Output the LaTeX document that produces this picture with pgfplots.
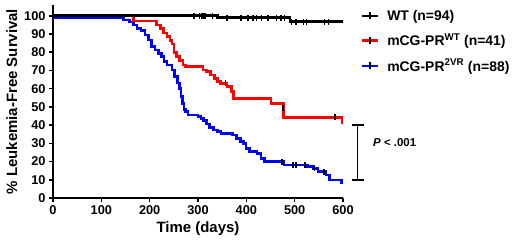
\documentclass[border=0pt]{standalone}
\usepackage{pgfplots}
\pgfplotsset{compat=1.18}
\usepackage{fontspec}
\setmainfont{Liberation Sans}
\usetikzlibrary{calc}

\begin{document}
\begin{tikzpicture}
\begin{axis}[
  name=ax,
  scale only axis,
  width=290bp, height=193bp,
  xmin=0, xmax=600, ymin=0, ymax=105.9,
  axis lines=left,
  axis line style={line width=1.7bp, -},
  xtick={0,100,...,600}, ytick={0,10,...,100},
  tick style={black, line width=1.5bp},
  tick align=outside, major tick length=4bp,
  tick label style={font=\fontsize{12.8}{14}\selectfont\bfseries},
  /pgf/number format/assume math mode=true,
  xlabel={Time (days)}, ylabel={\% Leukemia-Free Survival},
  label style={font=\fontsize{15}{17}\selectfont\bfseries},
  clip=false,
  reverse legend,
  legend cell align=left,
  legend style={draw=none, fill=none, at={(1.05,0.995)}, anchor=north west,
    font=\fontsize{14}{16}\selectfont\bfseries, row sep=8bp,
    /tikz/every odd column/.append style={column sep=6bp}},
  legend image code/.code={
    \draw[#1, line width=2.6bp] (0bp,0bp) -- (16bp,0bp);
    \draw[black, line width=1.4bp] (8bp,-3.5bp) -- (8bp,3.5bp);
  },
]
% blue: mCG-PR 2VR
\addplot[blue, line width=2.6bp, const plot] coordinates {
(0,98.9)(146,97.7)(158,96.6)(167,95.0)(174,93.1)(182,92.0)(190,89.4)(197,86.7)
(204,83.0)(211,81.2)(218,79.4)(225,77.5)(230,74.8)(236,73.0)(246,70.2)(252,66.6)
(258,63.0)(262,60.0)(265,55.6)(268,51.9)(271,48.5)(274,47.3)(279,45.5)(300,44.6)
(306,43.7)(312,42.5)(318,40.5)(324,38.6)(332,37.3)(340,36.4)(348,35.5)(372,34.5)
(380,32.7)(388,30.9)(394,30.0)(399,27.3)(406,25.4)(422,24.5)(430,21.8)(437,19.9)
(478,18.1)(526,17.2)(538,16.3)(548,14.4)(565,12.6)(572,9.9)(597,8.5)(600,8.5)};
\addlegendentry{mCG-PR\textsuperscript{2VR} (n=88)}
% red: mCG-PR WT
\addplot[red, line width=2.6bp, const plot] coordinates {
(0,100)(166,97.2)(214,95.0)(223,93.0)(229,90.5)(236,88.5)(242,86.5)(246,84.5)
(250,80.0)(256,77.5)(262,75.5)(269,73.0)(274,72.0)(310,70.2)(318,69.3)(326,67.5)
(334,65.7)(340,63.8)(346,62.9)(360,61.1)(369,58.3)(374,54.7)(451,51.9)(477,44.3)
(598,41.5)(600,41.5)};
\addlegendentry{mCG-PR\textsuperscript{WT} (n=41)}
% black: WT
\addplot[black, line width=2.6bp, const plot] coordinates {
(0,100)(340,98.9)(490,96.8)(600,96.8)};
\addlegendentry{WT (n=94)}

% censor marks
\addplot[only marks, mark=|, mark size=3bp, mark options={black, line width=1.5bp}, forget plot] coordinates {
(292,100)(303,100)(308,100)(311,100)(314,100)(330,100)
(360,98.9)(389,98.9)(403,98.9)(414,98.9)(421,98.9)(431,98.9)(445,98.9)(462,98.9)(472,98.9)(479,98.9)
(493,96.8)(503,96.8)(518,96.8)(525,96.8)(562,96.8)(570,96.8)};
\addplot[only marks, mark=|, mark size=3bp, mark options={black, line width=1.5bp}, forget plot] coordinates {
(357,62.9)(476,49.5)(583,44.3)};
\addplot[only marks, mark=|, mark size=3bp, mark options={black, line width=1.5bp}, forget plot] coordinates {
(474,19.9)(497,18.1)(503,18.1)(521,18.1)(541,16.3)(561,14.4)};

% p-value bracket
\draw[black, line width=1.4bp] (axis cs:618,40) -- (axis cs:643,40);
\draw[black, line width=1.4bp] (axis cs:618,9.9) -- (axis cs:643,9.9);
\draw[black, line width=1.4bp] (axis cs:630.5,40) -- (axis cs:630.5,9.9);
\node[anchor=west, font=\fontsize{11.5}{13}\selectfont\bfseries, inner sep=0pt] at (axis cs:662,30.2) {\textit{P} < .001};
\end{axis}
\pgfresetboundingbox
\path ($(ax.south west)+(-53bp,-47bp)$) rectangle ($(ax.south west)+(467bp,198bp)$);
\end{tikzpicture}
\end{document}
